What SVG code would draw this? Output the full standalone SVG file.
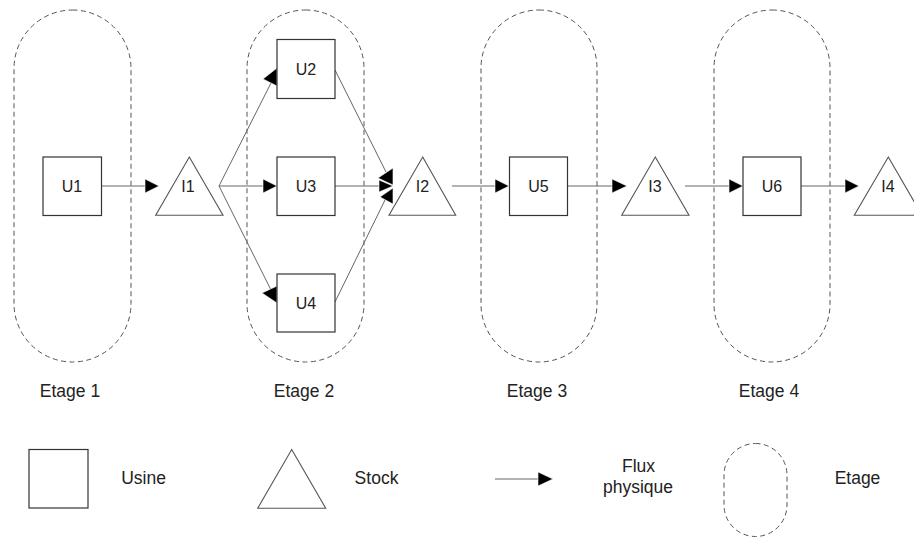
<svg xmlns="http://www.w3.org/2000/svg" width="914" height="538" viewBox="0 0 914 538">
<style>
.etage{fill:none;stroke:#555;stroke-width:1;stroke-dasharray:5 3.5}
.usine{fill:#fff;stroke:#333;stroke-width:1.2}
.stock{fill:#fff;stroke:#555;stroke-width:1.1}
.lbl{font-family:"Liberation Sans",Arial,sans-serif;font-size:16px;fill:#222;text-anchor:middle}
.big{font-family:"Liberation Sans",Arial,sans-serif;font-size:17.5px;fill:#222;text-anchor:middle}
.flux{stroke:#666;stroke-width:1;fill:none}
.head{fill:#000;stroke:#fff;stroke-width:0.6}
</style>
<rect width="914" height="538" fill="#fff"/>
<g id="etages">
<rect id="etage1" class="etage" x="14" y="10" width="117" height="352" rx="58.5"/>
<rect id="etage2" class="etage" x="247" y="10" width="117" height="352" rx="58.5"/>
<rect id="etage3" class="etage" x="481" y="10" width="116" height="352" rx="58"/>
<rect id="etage4" class="etage" x="714" y="10" width="116" height="352" rx="58"/>
</g>
<g id="connectors">
<line class="flux" x1="102" y1="186" x2="146" y2="186"/>
<polygon class="head" points="145,179 159,186 145,193"/>
<line class="flux" x1="219" y1="186" x2="264" y2="186"/>
<polygon class="head" points="263,179 277,186 263,193"/>
<line class="flux" x1="219" y1="186" x2="272" y2="81"/>
<polygon class="head" points="263,79 277,68 277,86"/>
<line class="flux" x1="219" y1="186" x2="271" y2="290"/>
<polygon class="head" points="262,293 277,286 277,303"/>
<line class="flux" x1="335" y1="70" x2="386" y2="172"/>
<line class="flux" x1="335" y1="186" x2="381" y2="186"/>
<line class="flux" x1="335" y1="302" x2="386" y2="198"/>
<polygon class="head" points="378,178 393,168 393,185"/>
<polygon class="head" points="379,180 393,186 379,192"/>
<polygon class="head" points="380,197 393,188 393,204"/>
<line class="flux" x1="452" y1="186" x2="496" y2="186"/>
<polygon class="head" points="495,179 509,186 495,193"/>
<line class="flux" x1="568" y1="186" x2="613" y2="186"/>
<polygon class="head" points="612,179 627,186 612,193"/>
<line class="flux" x1="685" y1="186" x2="730" y2="186"/>
<polygon class="head" points="729,179 743,186 729,193"/>
<line class="flux" x1="801" y1="186" x2="846" y2="186"/>
<polygon class="head" points="845,179 859,186 845,193"/>
</g>
<g id="U1"><rect class="usine" x="43" y="157" width="58.5" height="58.5"/><text class="lbl" x="72" y="191.5">U1</text></g>
<g id="I1"><polygon class="stock" points="189.3,157 223,215.3 155.7,215.3"/><text class="lbl" x="188" y="191.5">I1</text></g>
<g id="U2"><rect class="usine" x="277" y="39.5" width="58" height="59"/><text class="lbl" x="306" y="74.5">U2</text></g>
<g id="U3"><rect class="usine" x="277" y="157" width="58" height="58.5"/><text class="lbl" x="306" y="191.5">U3</text></g>
<g id="U4"><rect class="usine" x="277" y="274" width="58" height="58"/><text class="lbl" x="306" y="308.5">U4</text></g>
<g id="I2"><polygon class="stock" points="422.7,157 455.7,215.3 389,215.3"/><text class="lbl" x="422.5" y="191.5">I2</text></g>
<g id="U5"><rect class="usine" x="509.5" y="157" width="58" height="58.5"/><text class="lbl" x="538.5" y="191.5">U5</text></g>
<g id="I3"><polygon class="stock" points="655.3,157 689,215.3 621.7,215.3"/><text class="lbl" x="655" y="191.5">I3</text></g>
<g id="U6"><rect class="usine" x="743" y="157" width="58" height="58.5"/><text class="lbl" x="772" y="191.5">U6</text></g>
<g id="I4"><polygon class="stock" points="888.3,157 922,215.3 854.3,215.3"/><text class="lbl" x="888" y="191.5">I4</text></g>
<g id="etage-labels">
<text class="big" x="70" y="397">Etage 1</text>
<text class="big" x="304" y="397">Etage 2</text>
<text class="big" x="537" y="397">Etage 3</text>
<text class="big" x="769" y="397">Etage 4</text>
</g>
<g id="legend">
<rect class="usine" x="29" y="449.5" width="59" height="58.5"/>
<text class="big" x="143.5" y="484" style="text-anchor:middle">Usine</text>
<polygon class="stock" points="291.7,449.5 325.7,508.3 257.7,508.3"/>
<text class="big" x="376.5" y="484">Stock</text>
<line class="flux" x1="495" y1="479" x2="539" y2="479"/>
<polygon class="head" points="538,472 553,479 538,486"/>
<text class="big" x="638.5" y="472">Flux</text>
<text class="big" x="638" y="493">physique</text>
<rect class="etage" x="724" y="443.5" width="63" height="93" rx="31.5"/>
<text class="big" x="857.5" y="484">Etage</text>
</g>
</svg>
